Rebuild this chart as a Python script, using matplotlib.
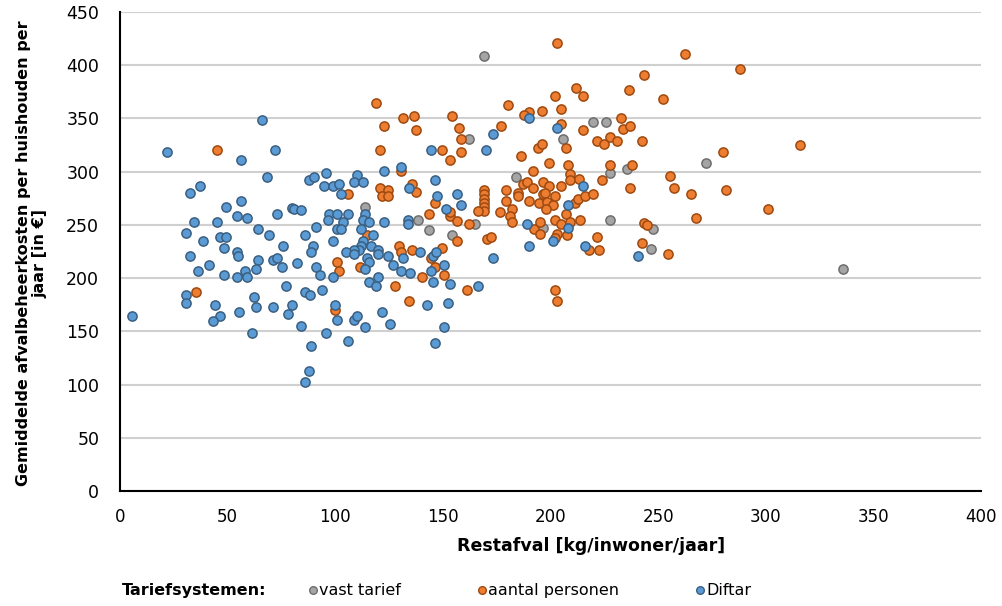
import matplotlib
matplotlib.use("Agg")
import matplotlib.pyplot as plt
from matplotlib.lines import Line2D

plt.rcParams['font.family'] = ['DejaVu Sans']

# ---- data: (restafval kg/inwoner/jaar, kosten per huishouden €) ----
vast_x = [169.1, 162.3, 184.1, 113.8, 138.4, 143.6, 154.4, 165.1, 205.8, 219.9,
          225.8, 227.8, 235.7, 196.4, 227.8, 247.5, 246.5, 272.4, 335.9]
vast_y = [408.7, 330.3, 294.7, 266.5, 254.6, 244.7, 240.6, 250.6, 330.6, 346.5,
          346.5, 298.4, 302.4, 246.8, 254.3, 246.5, 226.9, 308.4, 208.4]

pers_x = [45.2, 35.5, 158.4, 120.8, 149.4, 158.4, 153.5, 186.2, 130.5,
          120.8, 124.6, 121.7, 124.6, 135.7, 137.7, 105.9, 146.5,
          169.3, 169.3, 169.3, 169.3, 169.3, 169.3, 166.2, 176.5,
          143.6, 153.5, 153.5, 156.4, 162.3, 156.4, 170.3, 172.2, 114.6,
          129.6, 130.5, 135.5, 149.6, 144.6, 146.5, 140.5, 150.5, 127.6, 161.4,
          134.4, 101.0, 101.9, 111.6, 99.9,
          118.8, 122.8, 131.6, 136.6, 137.5, 154.4, 157.4, 177.1, 180.4,
          203.0, 262.5, 243.4, 211.8, 215.0, 236.6, 252.4, 202.1, 204.9, 196.1,
          190.2, 187.7, 205.0, 207.0, 232.6, 233.8, 236.9, 215.0, 221.7, 225.0,
          227.8, 230.7, 242.7, 194.2, 196.1, 199.2, 208.0, 208.9, 208.9, 192.0,
          213.1, 223.9, 227.8, 237.7, 187.1, 189.2, 192.0, 196.7, 199.2, 205.0,
          255.5, 257.4, 265.4, 236.8, 179.3, 185.0, 185.0, 179.3, 182.3, 181.2,
          182.3, 190.2, 194.8, 196.4, 197.4, 198.2, 201.0, 202.2, 197.8, 211.2,
          212.9, 216.0, 219.9, 207.0, 213.7, 202.1, 204.9, 208.9, 192.3, 195.1,
          195.1, 202.9, 202.1, 207.8, 218.0, 222.7, 221.7, 243.4, 244.7, 242.7,
          254.6, 267.5, 202.1, 203.0,
          288.2, 280.3, 316.0, 281.4, 301.0]
pers_y = [320.6, 186.6, 330.3, 320.6, 320.6, 318.4, 310.6, 314.3, 300.6,
          284.6, 282.5, 276.6, 276.6, 288.7, 280.6, 278.7, 270.6,
          282.5, 278.7, 274.7, 270.6, 266.9, 262.8, 262.8, 262.1,
          260.6, 258.1, 262.3, 253.4, 250.6, 234.7, 236.5, 238.7, 240.6,
          230.6, 224.6, 226.5, 228.7, 218.7, 210.6, 200.6, 202.5, 192.5, 188.4,
          178.4, 214.7, 206.5, 210.6, 170.2,
          364.7, 342.5, 350.6, 352.5, 338.7, 352.5, 340.6, 342.7, 362.8,
          420.6, 410.6, 390.6, 378.7, 370.6, 376.2, 368.4, 370.6, 358.4, 356.5,
          355.9, 352.8, 345.0, 322.5, 350.3, 340.3, 342.5, 338.7, 328.4, 326.2,
          332.4, 328.4, 328.4, 322.5, 326.2, 308.4, 306.6, 298.1, 292.1, 300.6,
          292.8, 292.5, 306.6, 306.6, 288.4, 290.6, 284.3, 290.3, 286.9, 286.9,
          296.2, 284.3, 278.7, 284.3, 282.5, 280.3, 276.8, 272.4, 264.6, 258.4,
          252.8, 272.4, 270.9, 278.7, 280.3, 271.9, 268.4, 276.6, 264.4, 270.9,
          274.7, 276.6, 278.7, 260.6, 254.3, 254.3, 251.2, 252.8, 245.9, 252.8,
          241.2, 241.2, 237.2, 240.6, 226.2, 226.2, 238.7, 252.2, 249.7, 233.1,
          222.5, 256.5, 188.4, 178.4,
          396.6, 318.4, 324.6, 282.5, 264.4]

diftar_x = [21.7, 72.0, 56.2, 68.1, 88.0, 90.1, 32.5, 37.3, 56.2, 49.2,
            79.9, 80.7, 84.1, 54.2, 59.1, 73.1, 34.5, 45.2, 64.3, 30.5,
            69.2, 86.1, 90.9, 46.5, 49.4, 38.6, 75.9, 48.3, 89.8, 88.9,
            54.2, 55.0, 32.5, 64.3, 70.9, 73.1, 75.3, 82.1, 41.2, 90.9,
            92.9, 36.4, 58.2, 63.2, 48.3, 54.2, 59.1, 77.1, 86.1, 88.1,
            30.5, 30.5, 62.3, 44.3, 63.2, 71.1, 80.0, 78.2, 46.5, 43.3,
            55.3, 5.7, 83.9, 61.3, 88.9, 88.0, 86.1, 66.1,
            173.1, 144.5, 170.2, 95.8, 110.0, 122.8, 130.5, 146.5, 94.8, 98.8,
            101.9, 108.7, 112.8, 134.4, 102.8, 147.4, 156.4, 158.4, 97.1, 101.0,
            105.9, 113.8, 112.8, 115.8, 103.8, 96.8, 122.8, 133.6, 133.6, 151.5,
            101.0, 102.8, 111.8, 98.8, 117.7, 112.8, 111.8, 110.9, 108.9, 105.0,
            108.9, 116.8, 119.9, 119.9, 114.6, 115.8, 113.7, 124.7, 126.7, 131.6,
            130.5, 134.6, 139.5, 145.6, 146.7, 150.5, 144.6, 145.6, 153.5, 166.3,
            173.1, 98.8, 94.0, 115.8, 118.9, 119.9, 99.9, 101.0, 108.9, 110.0,
            113.8, 121.7, 125.6, 95.8, 105.9, 142.5, 152.5, 150.5, 146.5,
            190.2, 203.0, 215.0, 208.0, 208.0, 189.2, 201.0, 190.2, 216.0, 240.6]
diftar_y = [318.4, 320.6, 310.6, 294.7, 292.4, 294.7, 280.3, 286.5, 272.4, 266.5,
            266.0, 265.0, 264.0, 258.4, 256.5, 260.6, 252.4, 252.4, 246.5, 242.4,
            240.3, 240.3, 248.4, 238.4, 238.4, 234.6, 230.3, 228.4, 230.3, 224.7,
            224.7, 220.6, 220.6, 216.8, 216.8, 218.7, 210.6, 214.4, 212.5, 210.6,
            202.5, 206.5, 206.5, 208.4, 202.5, 200.6, 200.6, 192.5, 186.6, 184.4,
            184.4, 176.5, 182.5, 174.4, 172.5, 172.5, 174.7, 166.5, 164.6, 160.2,
            168.4, 164.3, 154.7, 148.7, 136.5, 112.5, 102.5, 348.1,
            335.0, 320.6, 320.6, 298.7, 296.5, 300.6, 304.7, 292.5, 286.5, 286.5,
            288.7, 290.6, 290.6, 284.6, 278.7, 276.8, 278.7, 268.7, 260.6, 260.6,
            260.6, 260.6, 254.6, 252.4, 252.4, 254.6, 252.4, 254.6, 250.6, 264.6,
            246.5, 246.5, 246.5, 234.6, 240.6, 234.6, 230.6, 226.5, 226.5, 224.6,
            222.5, 230.6, 226.5, 222.5, 218.7, 214.7, 208.7, 220.6, 212.5, 218.7,
            206.5, 204.4, 224.6, 220.6, 224.6, 212.5, 206.5, 196.5, 194.6, 192.5,
            218.7, 200.6, 188.4, 196.5, 192.5, 200.6, 174.4, 160.3, 160.3, 164.3,
            154.3, 168.4, 156.6, 148.7, 140.6, 174.4, 176.5, 154.3, 138.7,
            350.3, 340.9, 286.5, 268.7, 246.8, 250.6, 234.7, 230.6, 230.6, 220.6]

x_ticks = [0, 50, 100, 150, 200, 250, 300, 350, 400]
y_ticks = [0, 50, 100, 150, 200, 250, 300, 350, 400, 450]

series = [
    ("vast tarief", vast_x, vast_y, "#A5A5A5", "#6E6E6E"),
    ("aantal personen", pers_x, pers_y, "#ED7D31", "#9E4A10"),
    ("Diftar", diftar_x, diftar_y, "#5B9BD5", "#3B5F80"),
]

fig = plt.figure(figsize=(10.02, 6.06), dpi=100)
ax = fig.add_axes([0.1198, 0.1893, 0.8592, 0.7914])

for name, xs, ys, fc, ec in series:
    ax.scatter(xs, ys, s=44, facecolor=fc, edgecolor=ec, linewidth=1.1, zorder=3)

ax.set_xlim(0, 400)
ax.set_ylim(0, 450)
ax.set_xticks(x_ticks)
ax.set_yticks(y_ticks)
ax.tick_params(length=0, labelsize=12.5, colors="#000000")
ax.tick_params(axis='x', pad=12)
ax.tick_params(axis='y', pad=15)
for lab in ax.get_xticklabels():
    lab.set_fontfamily(['Liberation Sans Narrow', 'DejaVu Sans'])
    lab.set_fontsize(12)
ax.grid(axis='y', color="#D0D0D0", linewidth=1.5, zorder=0)
ax.set_axisbelow(True)
for s in ['top', 'right']:
    ax.spines[s].set_visible(False)
for s in ['left', 'bottom']:
    ax.spines[s].set_linewidth(1.5)
    ax.spines[s].set_color("#000000")

fig.text(0.0314, 0.582, "Gemiddelde afvalbeheerkosten per huishouden per\njaar [in €]",
         rotation=90, ha='center', va='center', fontsize=11.5, fontweight='bold',
         multialignment='center', linespacing=1.15)
fig.text(591 / 1002, 1 - 546 / 606, "Restafval [kg/inwoner/jaar]",
         ha='center', va='center', fontsize=12.5, fontweight='bold')

# legend row (all texts share one baseline)
base = 1 - 595 / 606
mark_y = 1 - 590 / 606
fig.text(122 / 1002, base, "Tariefsystemen:", ha='left', va='baseline',
         fontsize=11.5, fontweight='bold')
for (name, xs, ys, fc, ec), mx in zip(series, [313, 482, 700]):
    fig.add_artist(Line2D([mx / 1002], [mark_y], marker='o', markersize=5.5,
                          markerfacecolor=fc, markeredgecolor=ec,
                          markeredgewidth=1.0, linestyle='none',
                          transform=fig.transFigure))
    fig.text((mx + 6) / 1002, base, name, ha='left', va='baseline', fontsize=11.5)

fig.savefig("out.png", dpi=100)
